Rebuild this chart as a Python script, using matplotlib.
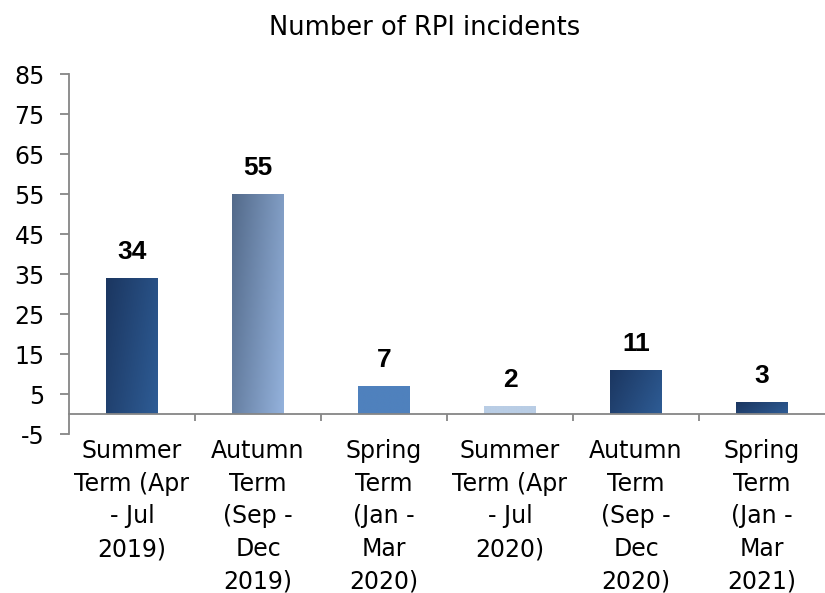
import numpy as np
import matplotlib.pyplot as plt
from matplotlib.colors import LinearSegmentedColormap

plt.rcParams["axes.unicode_minus"] = False

terms = ["Summer\nTerm (Apr\n- Jul\n2019)", "Autumn\nTerm\n(Sep -\nDec\n2019)",
         "Spring\nTerm\n(Jan -\nMar\n2020)", "Summer\nTerm (Apr\n- Jul\n2020)",
         "Autumn\nTerm\n(Sep -\nDec\n2020)", "Spring\nTerm\n(Jan -\nMar\n2021)"]
incidents = [34, 55, 7, 2, 11, 3]
yticks = list(range(-5, 86, 10))

# (top-left colour, bottom-right colour) for each bar
bar_colours = [("#1b3660", "#2e5c95"), ("#536a8a", "#94b2dc"), ("#4f81bd", "#4f81bd"),
               ("#b9cde5", "#b9cde5"), ("#1b3660", "#2e5c95"), ("#1b3660", "#2e5c95")]

fig = plt.figure(figsize=(8.25, 5.93), dpi=100)
ax = fig.add_axes([69 / 825, 1 - 434 / 593, 756 / 825, 360 / 593])

for s in ["top", "right"]:
    ax.spines[s].set_visible(False)
ax.spines["bottom"].set_position(("data", 0))
for s in ["left", "bottom"]:
    ax.spines[s].set_color("#868686")
    ax.spines[s].set_linewidth(1.3)
    ax.spines[s].set_zorder(3)

x = np.arange(len(terms))
bars = ax.bar(x, incidents, width=0.41, color="none", edgecolor="none")

# diagonal gradients clipped to each bar
for b, (c0, c1) in zip(bars, bar_colours):
    cmap = LinearSegmentedColormap.from_list("g", [c0, c1])
    gx, gy = np.meshgrid(np.linspace(0, 1, 60), np.linspace(0, 1, 60))
    grad = gx * 0.7 + gy * 0.3
    x0, w, h = b.get_x(), b.get_width(), b.get_height()
    im = ax.imshow(grad, cmap=cmap, extent=(x0, x0 + w, 0, h), origin="upper",
                   aspect="auto", zorder=2, interpolation="bilinear")
    im.set_clip_path(b)

for xi, v in zip(x, incidents):
    ax.text(xi, v + 3.6, str(v), ha="center", va="bottom", fontsize=19,
            fontweight="bold", family="Liberation Sans")

ax.set_xlim(-0.5, len(terms) - 0.5)
ax.set_ylim(-5, 85)
ax.set_yticks(yticks)
ax.tick_params(axis="y", labelsize=17, color="#868686", length=6.5, width=1.3, pad=11)
ax.set_xticks(x)
ax.set_xticklabels(terms, fontsize=17, linespacing=1.46)
ax.tick_params(axis="x", length=0, pad=18)
ax.set_xticks(np.arange(0.5, len(terms) - 1, 1), minor=True)
ax.tick_params(axis="x", which="minor", length=5, width=1.3, color="#868686")

fig.text(0.515, 1 - 28 / 593, "Number of RPI incidents", ha="center", va="center", fontsize=18.5)

fig.savefig("out.png", dpi=100)
